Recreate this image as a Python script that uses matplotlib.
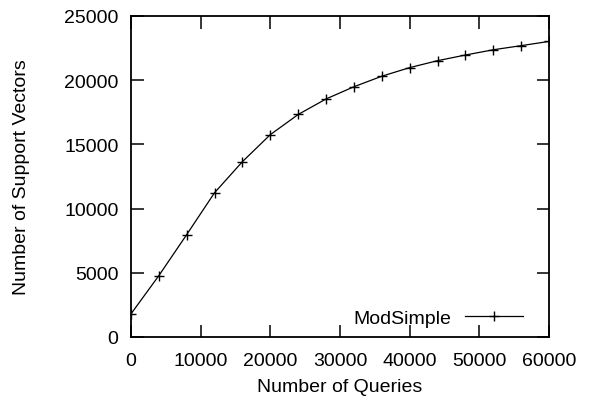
import matplotlib
matplotlib.use('Agg')
import matplotlib.pyplot as plt

plt.rcParams['font.family'] = ['Liberation Sans', 'DejaVu Sans']
plt.rcParams['font.size'] = 14

# data
queries = [0, 4000, 8000, 12000, 16000, 20000, 24000, 28000, 32000,
           36000, 40000, 44000, 48000, 52000, 56000, 60000]
support_vectors = [1800, 4780, 7980, 11240, 13660, 15760, 17330, 18540, 19490,
                   20310, 20980, 21520, 21960, 22370, 22690, 23020]

fig = plt.figure(figsize=(5.89, 4.02), dpi=100)
ax = fig.add_axes([131 / 589, 1 - 338 / 402, 418 / 589, 321 / 402])

ax.plot(queries, support_vectors, color='black', lw=0.9, marker='+',
        markersize=6.5, markeredgewidth=1.0, label='ModSimple')

ax.set_xlim(0, 60000)
ax.set_ylim(0, 25000)
ax.set_xticks(range(0, 60001, 10000))
ax.set_yticks(range(0, 25001, 5000))
ax.tick_params(direction='in', length=9, width=1.1, top=True, right=True)
ax.tick_params(axis='x', pad=11)
ax.tick_params(axis='y', pad=9)
for s in ax.spines.values():
    s.set_linewidth(1.3)

ax.set_xlabel('Number of Queries')
ax.set_ylabel('Number of Support Vectors')
ax.xaxis.set_label_coords(0.5, -0.128)
ax.yaxis.set_label_coords(-0.242, 0.5)

ax.legend(loc='center right', bbox_to_anchor=(0.957, 0.059), borderaxespad=0,
          frameon=False, markerfirst=False,
          handlelength=2.98, handletextpad=0.7)

fig.savefig('out.png', dpi=100)
